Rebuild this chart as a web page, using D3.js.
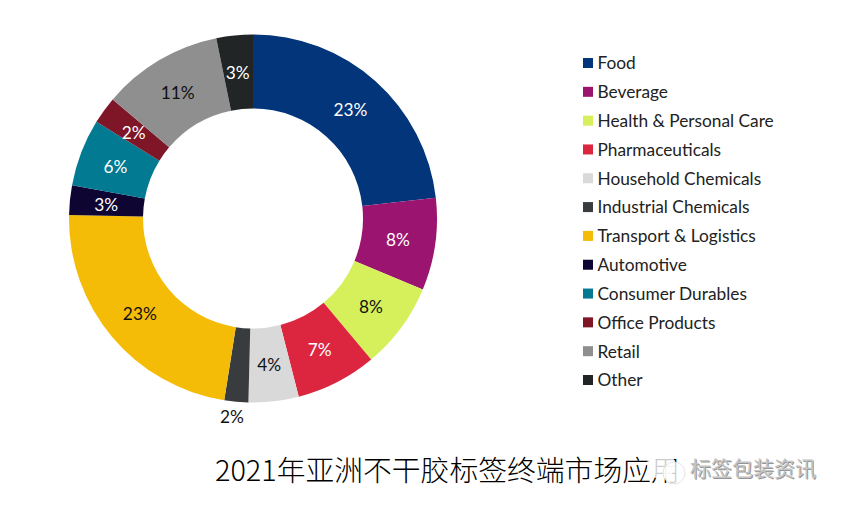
<!DOCTYPE html>
<html>
<head>
<meta charset="utf-8">
<script src="https://cdn.jsdelivr.net/npm/d3@7"></script>
<style>
    html, body { margin: 0; padding: 0; background: #fff; }
    text { font-family: Lato, "Noto Sans", sans-serif; }
</style>
</head>
<body>
<svg id="chart"></svg>
<script>
"use strict";

const categories = ["Food", "Beverage", "Health & Personal Care", "Pharmaceuticals", "Household Chemicals",
    "Industrial Chemicals", "Transport & Logistics", "Automotive", "Consumer Durables", "Office Products", "Retail", "Other"];
const shares = [23.2, 8.1, 7.6, 7.1, 4.4, 2.1, 22.8, 2.6, 5.9, 2.4, 10.6, 3.2];
const colors = ["#03357a", "#9b1470", "#d5f05a", "#dc2640", "#d9d9d9", "#383c3e",
    "#f4bc06", "#0e0533", "#017a92", "#7e1628", "#8f8f8f", "#212526"];
const darkLabels = ["Health & Personal Care", "Household Chemicals", "Industrial Chemicals", "Transport & Logistics", "Retail"];
const title = "2021年亚洲不干胶标签终端市场应用";
const watermark = "标签包装资讯";

const width = 844;
const height = 505;
const FONT_SIZE = 17.3;

const svg = d3.select("#chart")
    .attr("width", width)
    .attr("height", height)
    .style("display", "block");

const slices = d3.pie().sort(null).value((d, i) => shares[i])(categories);
const arc = d3.arc().innerRadius(110).outerRadius(184);
const ring = svg.append("g").attr("transform", "translate(253,218.5)");

ring.selectAll("path")
    .data(slices)
    .enter().append("path")
    .attr("d", arc)
    .attr("fill", (d, i) => colors[i]);

// the thin slice keeps its label outside the ring
const labelPos = d => {
    if (d.data === "Industrial Chemicals") {
        const a = (d.startAngle + d.endAngle) / 2;
        return [198 * Math.sin(a) - 3, -198 * Math.cos(a) + 3];
    }
    const c = arc.centroid(d);
    return [c[0] - 0.5, c[1] + 2.5];
};

ring.selectAll(".pct")
    .data(slices)
    .enter().append("text")
    .attr("class", "pct")
    .attr("transform", d => `translate(${labelPos(d)})`)
    .attr("text-anchor", "middle")
    .attr("dominant-baseline", "middle")
    .attr("font-size", FONT_SIZE)
    .attr("fill", d => darkLabels.includes(d.data) ? "#111" : "#fff")
    .text((d, i) => d3.format(".0f")(shares[i]) + "%");

// legend
const legendY = d3.scalePoint().domain(categories).range([63, 380]);
const legend = svg.append("g");

legend.selectAll("rect")
    .data(categories)
    .enter().append("rect")
    .attr("x", 583)
    .attr("y", d => legendY(d) - 5)
    .attr("width", 10)
    .attr("height", 10)
    .attr("fill", (d, i) => colors[i]);

legend.selectAll("text")
    .data(categories)
    .enter().append("text")
    .attr("x", 597.5)
    .attr("y", d => legendY(d) + 2)
    .attr("dominant-baseline", "middle")
    .attr("font-size", FONT_SIZE)
    .attr("fill", "#222")
    .text(d => d);

// title
svg.append("text")
    .attr("x", 215)
    .attr("y", 481)
    .attr("font-size", 28.8)
    .attr("font-weight", 300)
    .style("font-family", '"Noto Sans CJK SC", sans-serif')
    .attr("fill", "#000")
    .text(title);

// watermark, sits on top of the end of the title
const mark = svg.append("g");
mark.append("circle").attr("cx", 661).attr("cy", 465).attr("r", 14).attr("fill", "#fff").attr("fill-opacity", 0.8);
mark.append("circle").attr("cx", 674).attr("cy", 473).attr("r", 11).attr("fill", "#fff").attr("fill-opacity", 0.8)
    .attr("stroke", "#ddd").attr("stroke-width", 0.8);
mark.append("text")
    .attr("x", 691)
    .attr("y", 477)
    .attr("font-size", 21)
    .style("font-family", '"Noto Sans CJK SC", sans-serif')
    .attr("fill", "#666")
    .attr("fill-opacity", 0.7)
    .text(watermark);
mark.append("text")
    .attr("x", 690)
    .attr("y", 476)
    .attr("font-size", 21)
    .style("font-family", '"Noto Sans CJK SC", sans-serif')
    .attr("fill", "#c4c4c4")
    .text(watermark);
</script>
</body>
</html>
